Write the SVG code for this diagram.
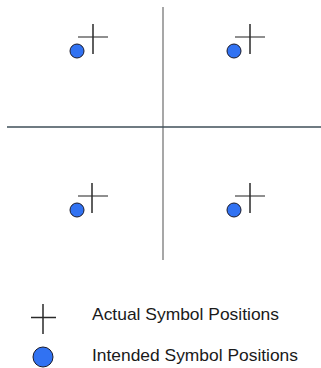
<svg xmlns="http://www.w3.org/2000/svg" width="321" height="368" viewBox="0 0 321 368">
<style>
.axis{stroke:#8a8a8a;stroke-width:1.5;fill:none}
.haxis{stroke:#3f4f58;stroke-width:1.5;fill:none}
.cv{stroke:#2a2a2a;stroke-width:1.5;fill:none}
.ch{stroke:#6a6a6a;stroke-width:1.5;fill:none}
.dot{fill:#3172f2;stroke:#1a1a2a;stroke-width:1}
.lbl{font-family:"Liberation Sans",Arial,sans-serif;font-size:17px;fill:#1a1a1a}
</style>
<rect width="321" height="368" fill="#fff"/>
<g id="axes">
<line class="axis" x1="163" y1="7" x2="163" y2="260"/>
<line class="haxis" x1="7" y1="127" x2="321" y2="127"/>
</g>
<g id="q1">
<line class="ch" x1="78" y1="37" x2="108" y2="37"/>
<line class="cv" x1="93" y1="24" x2="93" y2="54"/>
<circle class="dot" cx="77" cy="51" r="7"/>
</g>
<g id="q2">
<line class="ch" x1="235" y1="37" x2="265" y2="37"/>
<line class="cv" x1="250" y1="24" x2="250" y2="54"/>
<circle class="dot" cx="234" cy="51" r="7"/>
</g>
<g id="q3">
<line class="ch" x1="78" y1="196" x2="108" y2="196"/>
<line class="cv" x1="92" y1="183" x2="92" y2="213"/>
<circle class="dot" cx="77" cy="210" r="7"/>
</g>
<g id="q4">
<line class="ch" x1="235" y1="196" x2="265" y2="196"/>
<line class="cv" x1="250" y1="183" x2="250" y2="213"/>
<circle class="dot" cx="234" cy="210" r="7"/>
</g>
<g id="legend-actual">
<line class="cv" x1="31" y1="317.5" x2="56" y2="317.5"/>
<line class="cv" x1="43" y1="304" x2="43" y2="334"/>
<text class="lbl" x="92" y="320" textLength="187" lengthAdjust="spacingAndGlyphs">Actual Symbol Positions</text>
</g>
<g id="legend-intended">
<circle class="dot" cx="43" cy="357" r="10"/>
<text class="lbl" x="92" y="361" textLength="206" lengthAdjust="spacingAndGlyphs">Intended Symbol Positions</text>
</g>
</svg>
